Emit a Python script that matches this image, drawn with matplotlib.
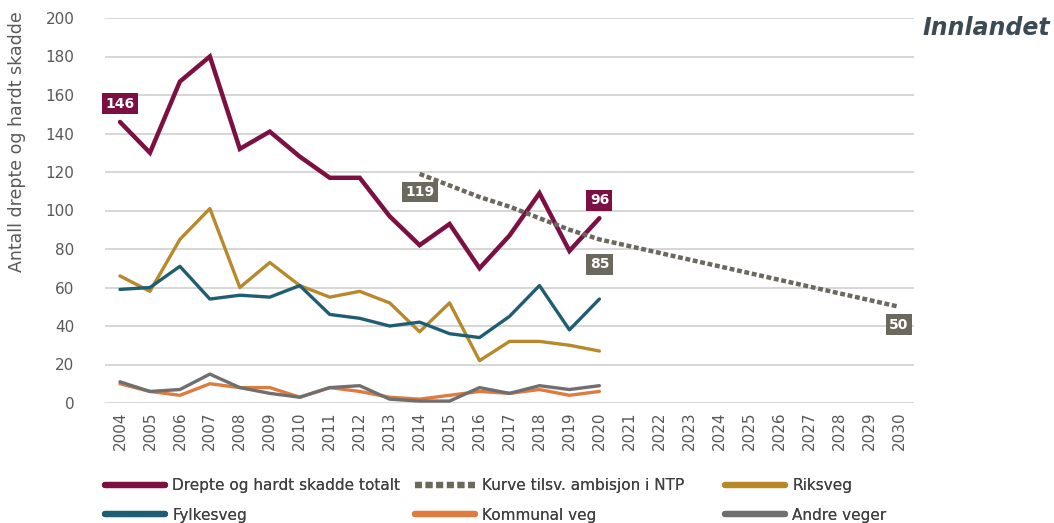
import matplotlib
matplotlib.use("Agg")
import matplotlib.pyplot as plt
import numpy as np

years = list(range(2004, 2031))
data_years = list(range(2004, 2021))
ntp_years = list(range(2014, 2031))

total = [146, 130, 167, 180, 132, 141, 128, 117, 117, 97, 82, 93, 70, 87, 109, 79, 96]
ntp = [119, 113, 107, 102, 96, 90, 85, 81.5, 78, 74.5, 71, 67.5, 64, 60.5, 57, 53.5, 50]
riksveg = [66, 58, 85, 101, 60, 73, 61, 55, 58, 52, 37, 52, 22, 32, 32, 30, 27]
fylkesveg = [59, 60, 71, 54, 56, 55, 61, 46, 44, 40, 42, 36, 34, 45, 61, 38, 54]
kommunal = [10, 6, 4, 10, 8, 8, 3, 8, 6, 3, 2, 4, 6, 5, 7, 4, 6]
andre = [11, 6, 7, 15, 8, 5, 3, 8, 9, 2, 1, 1, 8, 5, 9, 7, 9]

labels = ["Drepte og hardt skadde totalt", "Kurve tilsv. ambisjon i NTP", "Riksveg",
          "Fylkesveg", "Kommunal veg", "Andre veger"]

c_total = "#7D1042"
c_ntp = "#6B685E"
c_riks = "#B8892B"
c_fylke = "#1F5E72"
c_komm = "#E07B3E"
c_andre = "#6F6F6F"
txt_grey = "#595959"

fig = plt.figure(figsize=(10.54, 5.23), dpi=100)
ax = fig.add_axes([105/1054, 1-403/523, (914-105)/1054, (403-18)/523])

ax.set_ylim(0, 200)
ax.set_xlim(2003.5, 2030.5)
ax.set_yticks(range(0, 201, 20))
ax.set_xticks(years)
ax.set_xticklabels([str(y) for y in years], rotation=90)
ax.grid(axis="y", color="#D0D0D0", linewidth=1.2)
ax.set_axisbelow(True)
for s in ax.spines.values():
    s.set_visible(False)
ax.tick_params(axis="both", length=0, colors=txt_grey, labelsize=11)
ax.tick_params(axis="y", pad=22)
ax.tick_params(axis="x", pad=6)

l_total, = ax.plot(data_years, total, color=c_total, lw=3.2, solid_joinstyle="miter", solid_capstyle="round")
l_ntp, = ax.plot(ntp_years, ntp, color=c_ntp, lw=3.2, linestyle=(0, (1.1, 0.6)))
l_riks, = ax.plot(data_years, riksveg, color=c_riks, lw=2.4, solid_capstyle="round")
l_fylke, = ax.plot(data_years, fylkesveg, color=c_fylke, lw=2.4, solid_capstyle="round")
l_komm, = ax.plot(data_years, kommunal, color=c_komm, lw=2.4, solid_capstyle="round")
l_andre, = ax.plot(data_years, andre, color=c_andre, lw=2.4, solid_capstyle="round")

def box_label(x, y, text, color, dy):
    ax.annotate(text, (x, y), xytext=(0, dy), textcoords="offset points",
                ha="center", va="center", color="white", fontsize=10, fontweight="bold",
                bbox=dict(boxstyle="square,pad=0.25", fc=color, ec="none"))

box_label(data_years[0], total[0], str(total[0]), c_total, 13)
box_label(data_years[-1], total[-1], str(total[-1]), c_total, 13)
box_label(ntp_years[0], ntp[0], str(ntp[0]), c_ntp, -13)
box_label(2020, ntp[6], str(ntp[6]), c_ntp, -18)
box_label(ntp_years[-1], ntp[-1], str(ntp[-1]), c_ntp, -13)

fig.text(17/1054, 1-142/523, "Antall drepte og hardt skadde", rotation=90,
         ha="center", va="center", color=txt_grey, fontsize=12.5)
fig.text(1050/1054, 1-28/523, "Innlandet", ha="right", va="center",
         fontsize=17, fontweight="bold", fontstyle="italic", color="#3B4A54")

handles = [l_total, l_ntp, l_riks, l_fylke, l_komm, l_andre]
col_x = [105, 415, 725]
for i in range(3):
    leg = fig.legend([handles[i], handles[i + 3]], [labels[i], labels[i + 3]],
                     loc="upper left", bbox_to_anchor=(col_x[i]/1054, 1-478/523),
                     frameon=False, fontsize=11, handlelength=3.9, handletextpad=0.5,
                     labelspacing=0.95, borderpad=0, borderaxespad=0,
                     labelcolor="#404040")
    for h in leg.get_lines():
        h.set_linewidth(4.5)
    fig.add_artist(leg)

fig.savefig("out.png", dpi=100)
